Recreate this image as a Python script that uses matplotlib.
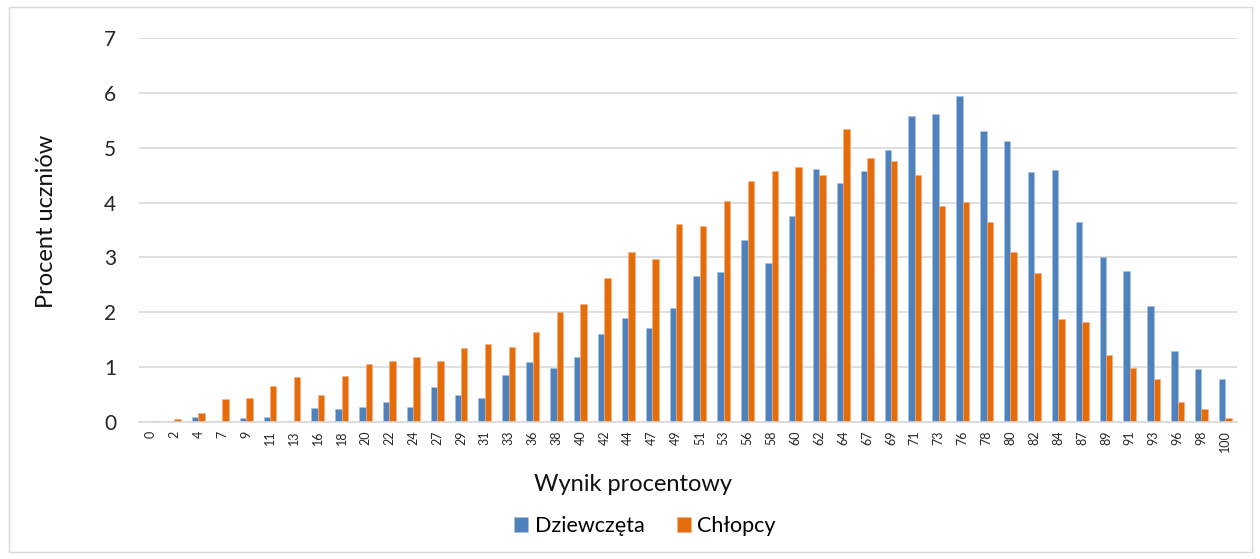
import numpy as np
import matplotlib.pyplot as plt
from matplotlib.patches import Rectangle

plt.rcParams['font.family'] = ['Lato', 'DejaVu Sans']

scores = [0, 2, 4, 7, 9, 11, 13, 16, 18, 20, 22, 24, 27, 29, 31, 33, 36, 38,
          40, 42, 44, 47, 49, 51, 53, 56, 58, 60, 62, 64, 67, 69, 71, 73, 76,
          78, 80, 82, 84, 87, 89, 91, 93, 96, 98, 100]

girls = [0.00, 0.01, 0.10, 0.02, 0.08, 0.10, 0.02, 0.25, 0.23, 0.28, 0.37,
         0.28, 0.64, 0.50, 0.44, 0.86, 1.09, 0.99, 1.19, 1.60, 1.89, 1.71,
         2.07, 2.66, 2.74, 3.32, 2.90, 3.76, 4.62, 4.36, 4.57, 4.96, 5.57,
         5.61, 5.94, 5.30, 5.12, 4.55, 4.59, 3.65, 3.00, 2.75, 2.12, 1.30,
         0.96, 0.78]

boys = [0.02, 0.05, 0.17, 0.42, 0.44, 0.66, 0.82, 0.49, 0.84, 1.06, 1.12,
        1.19, 1.12, 1.35, 1.43, 1.36, 1.65, 2.00, 2.16, 2.63, 3.10, 2.97,
        3.61, 3.58, 4.03, 4.39, 4.58, 4.65, 4.51, 5.35, 4.81, 4.76, 4.51,
        3.93, 4.02, 3.65, 3.10, 2.72, 1.88, 1.82, 1.23, 0.98, 0.79, 0.37,
        0.23, 0.07]

blue = '#4F81BD'
orange = '#E46C0A'
grid = '#D9D9D9'

fig = plt.figure(figsize=(12.6, 5.59), dpi=100)
fig.patches.append(Rectangle((0.007, 0.012), 0.987, 0.975, transform=fig.transFigure,
                             fill=False, edgecolor=grid, linewidth=1))
ax = fig.add_axes([0.110, 0.245, 0.872, 0.687])

x = np.arange(len(scores))
w = 0.27
ax.bar(x - w / 2, girls, width=w, color=blue, edgecolor='#A9C1E0', linewidth=0.4,
       label='Dziewczęta', zorder=3)
ax.bar(x + w / 2, boys, width=w, color=orange, edgecolor='#F4B183', linewidth=0.4,
       label='Chłopcy', zorder=3)

ax.set_xlim(-0.5, len(scores) - 0.5)
ax.set_ylim(0, 7)
ax.set_yticks(range(8))
ax.yaxis.grid(True, color=grid, linewidth=1.2, zorder=0)
ax.set_axisbelow(True)
for side in ['top', 'right', 'left']:
    ax.spines[side].set_visible(False)
ax.spines['bottom'].set_color(grid)
ax.spines['bottom'].set_linewidth(1.2)
ax.spines['bottom'].set_zorder(4)

ax.set_xticks(x)
ax.set_xticklabels([str(s) for s in scores], rotation=90, fontsize=9, color='#262626')
ax.tick_params(axis='x', length=0, pad=6)
ax.tick_params(axis='y', length=0, pad=16, labelsize=15, labelcolor='#262626')

ax.set_ylabel('Procent uczniów', fontsize=17, color='#111111')
ax.yaxis.set_label_coords(-0.0746, 0.523)
ax.set_xlabel('Wynik procentowy', fontsize=17, color='#111111')
ax.xaxis.set_label_coords(0.450, -0.136)

fig.legend(loc='center', bbox_to_anchor=(0.512, 0.059), ncol=2, frameon=False,
           fontsize=15.5, handlelength=0.65, handleheight=0.65, handletextpad=0.3,
           columnspacing=1.5)

fig.savefig('out.png', dpi=100)
